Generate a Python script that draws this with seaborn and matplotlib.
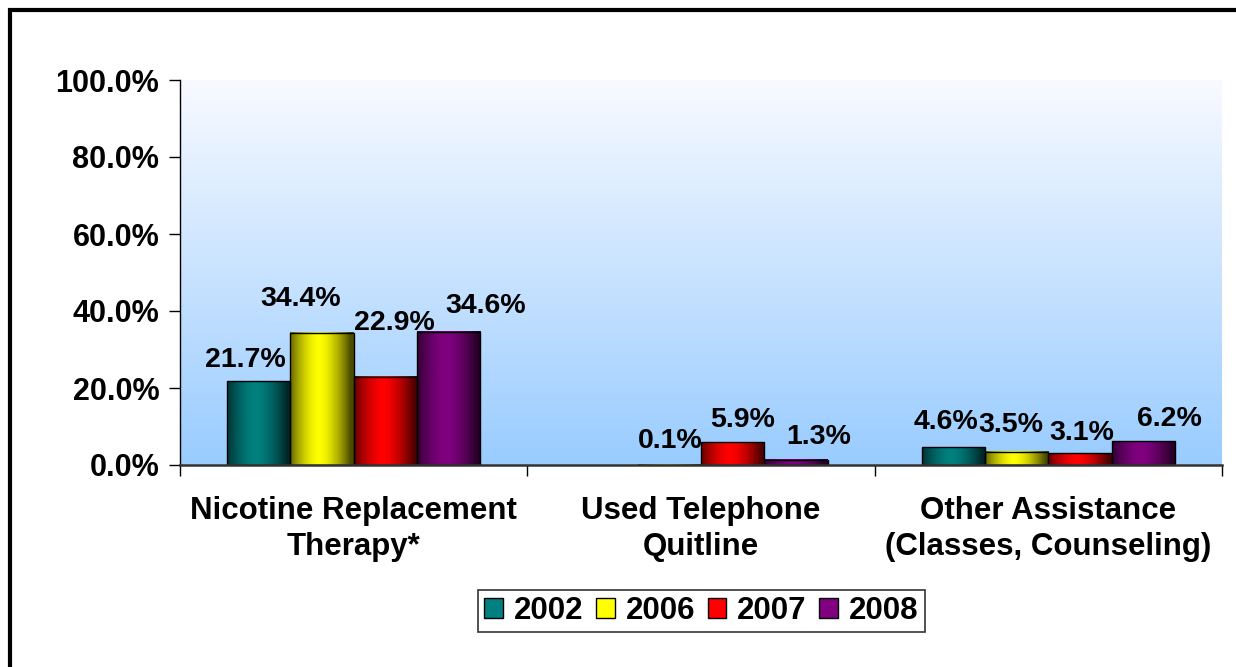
import numpy as np
import pandas as pd
import matplotlib.pyplot as plt
import seaborn as sns
from matplotlib.colors import to_rgb
from matplotlib.patches import Rectangle

# Data
categories = ["Nicotine Replacement\nTherapy*", "Used Telephone\nQuitline",
              "Other Assistance\n(Classes, Counseling)"]
years = ["2002", "2006", "2007", "2008"]
pct_2002 = [21.7, np.nan, 4.6]
pct_2006 = [34.4, 0.1, 3.5]
pct_2007 = [22.9, 5.9, 3.1]
pct_2008 = [34.6, 1.3, 6.2]
yticks = [0, 20, 40, 60, 80, 100]

year_colors = ["#008080", "#FFFF00", "#FF0000", "#800080"]

# label nudges (pixels): horizontal shift and gap above bar, like the original
label_dx = {"2002": [-13, 0, -7], "2006": [-21, 1, -6],
            "2007": [9, 10, 2], "2008": [37, 23, 26]}
label_gap = {"2002": [14, 0, 18], "2006": [27, 17, 20],
             "2007": [47, 15, 13], "2008": [19, 16, 15]}

df = pd.DataFrame({
    "category": categories * 4,
    "year": [y for y in years for _ in categories],
    "pct": pct_2002 + pct_2006 + pct_2007 + pct_2008,
}).dropna()

sns.set_theme(style="white")
plt.rcParams["font.family"] = ["Liberation Sans", "DejaVu Sans"]
plt.rcParams["font.weight"] = "bold"
plt.rcParams["text.color"] = "black"
plt.rcParams["xtick.color"] = "black"
plt.rcParams["ytick.color"] = "black"

FS = 22.5

fig = plt.figure(figsize=(12.36, 6.67), dpi=100)
ax = fig.add_axes([180 / 1236, 1 - 465 / 667, 1042 / 1236, 385 / 667])

# background gradient: almost white at top, light blue at bottom
top = np.array([0.975, 0.98, 1.0])
bot = np.array([0.60, 0.80, 1.0])
t = np.linspace(0, 1, 256)[:, None]
grad = (top * (1 - t) + bot * t)[:, None, :]
ax.imshow(grad, extent=(0, 1, 0, 1), transform=ax.transAxes,
          aspect="auto", zorder=0)

sns.barplot(data=df, x="category", y="pct", hue="year", order=categories,
            hue_order=years, palette=year_colors, width=0.73, saturation=1,
            edgecolor="black", linewidth=1, ax=ax)

# cylinder-like shading on each bar + data labels
xs = np.linspace(0, 1, 64)
shade = 0.3 + 0.7 * (1 - np.abs(2 * xs - 0.9) ** 1.6).clip(0, 1)
for yr, col, cont in zip(years, year_colors, ax.containers):
    rgb = np.array(to_rgb(col))
    img = (rgb[None, :] * shade[:, None])[None, :, :]
    for bar in cont:
        x0, w, h = bar.get_x(), bar.get_width(), bar.get_height()
        ci = int(round(x0 + w / 2))
        ax.imshow(img, extent=(x0, x0 + w, 0, h), aspect="auto", zorder=0.5)
        bar.set_facecolor("none")
        bar.set_zorder(1)
        ax.annotate(f"{h:.1f}%", (x0 + w / 2, h),
                    xytext=(label_dx[yr][ci], label_gap[yr][ci]),
                    textcoords="offset pixels", ha="center", va="baseline",
                    fontsize=20.5, fontweight="bold", color="black", zorder=3)

ax.set_xlim(-0.5, 2.5)
ax.set_ylim(0, 100)
ax.set_yticks(yticks)
ax.set_yticklabels([f"{v:.1f}%" for v in yticks], fontsize=22,
                   fontweight="bold")
ax.set_xticks(range(3))
ax.set_xticklabels(categories, fontsize=FS, fontweight="bold",
                   linespacing=1.3)
ax.set_xticks([-0.5, 0.5, 1.5, 2.5], minor=True)
ax.tick_params(axis="x", which="major", length=0, pad=22)
ax.tick_params(axis="x", which="minor", bottom=True, length=8, width=1,
               direction="out", color="black")
ax.tick_params(axis="y", left=True, length=8, width=1, direction="out",
               color="black", pad=7)
ax.set_xlabel("")
ax.set_ylabel("")
for s in ["top", "right"]:
    ax.spines[s].set_visible(False)
ax.spines["left"].set_color("black")
ax.spines["left"].set_linewidth(1)
ax.spines["bottom"].set_color("#333333")
ax.spines["bottom"].set_linewidth(1.8)

sns.move_legend(ax, "center", bbox_to_anchor=(701.5 / 1236, 1 - 611 / 667),
                bbox_transform=fig.transFigure, ncol=4, title=None,
                frameon=True, fontsize=FS, handlelength=0.6,
                handleheight=0.6, handletextpad=0.35, columnspacing=0.4,
                borderpad=0.2, fancybox=False, edgecolor="black")
leg = ax.get_legend()
leg.get_frame().set_linewidth(1.2)
for txt in leg.get_texts():
    txt.set_fontweight("bold")
    txt.set_color("black")

# thick outer border (right/bottom edges fall outside the image)
fig.patches.append(Rectangle((9.5 / 1236, -0.5), 2, 1 - 10 / 667 + 0.5,
                             transform=fig.transFigure, fill=False,
                             edgecolor="black", linewidth=3))

fig.savefig("out.png", dpi=100)
